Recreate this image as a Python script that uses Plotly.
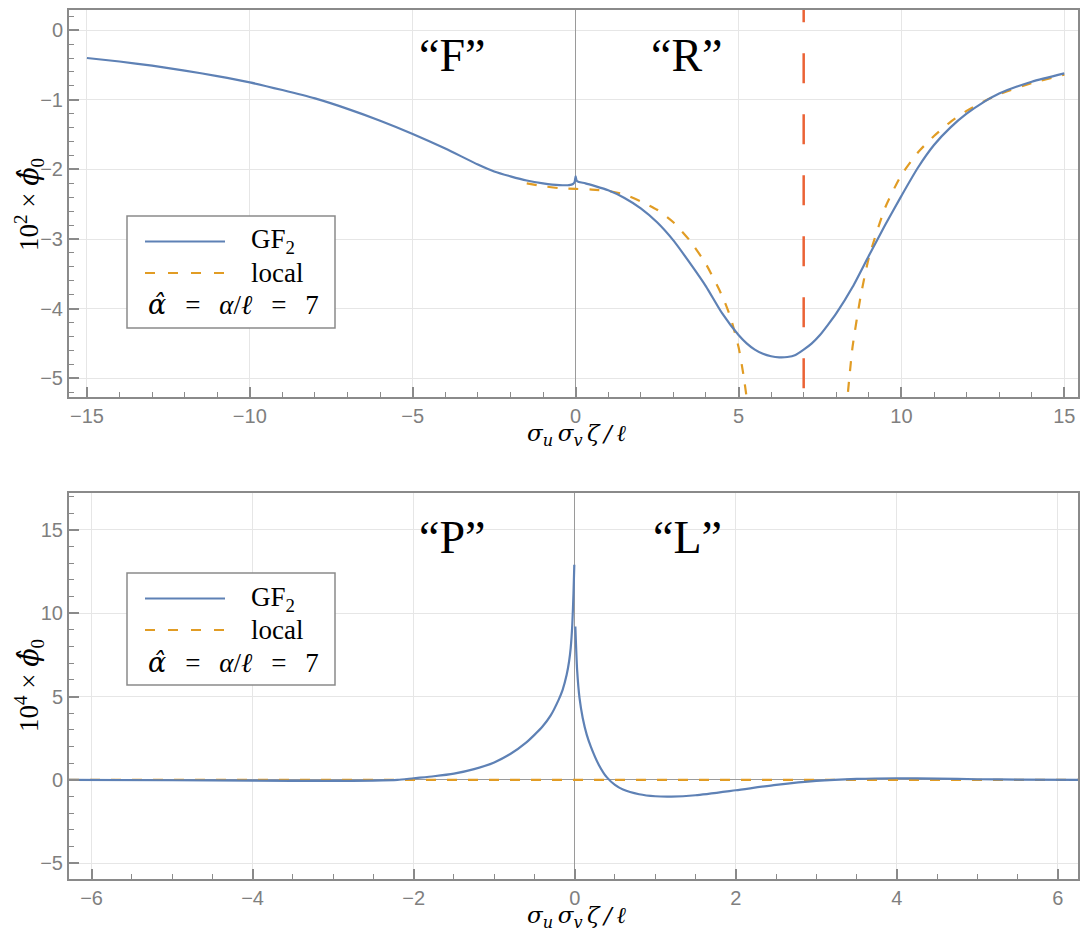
import plotly.graph_objects as go

# ---------------- data ----------------
alpha_hat = 7

top_gf_x = [-15, -14, -13, -12, -11, -10, -9, -8, -7, -6, -5, -4, -3, -2.5, -2, -1.5, -1, -0.5, -0.2, -0.08,
            -0.03, 0, 0.03, 0.1, 0.3, 0.6, 1.0, 1.5, 2.0, 2.5, 3.0, 3.5, 4.0, 4.5, 5.0, 5.25, 5.5, 5.75, 6.0,
            6.25, 6.5, 6.75, 7.0, 7.25, 7.5, 7.75, 8.0, 8.5, 9.0, 9.5, 10.0, 10.5, 11.0, 11.5, 12.0, 12.5,
            13.0, 14.0, 15]
top_gf_y = [-0.40, -0.45, -0.51, -0.58, -0.66, -0.75, -0.86, -0.98, -1.13, -1.30, -1.49, -1.70, -1.93, -2.03,
            -2.10, -2.16, -2.20, -2.225, -2.225, -2.21, -2.18, -2.10, -2.16, -2.18, -2.20, -2.24, -2.30, -2.41,
            -2.56, -2.76, -3.02, -3.34, -3.68, -4.07, -4.38, -4.50, -4.59, -4.65, -4.685, -4.70, -4.695,
            -4.665, -4.59, -4.50, -4.38, -4.23, -4.07, -3.69, -3.24, -2.80, -2.38, -1.98, -1.65, -1.40, -1.20,
            -1.04, -0.91, -0.74, -0.62]

top_loc_x = [-1.5, -1, -0.5, 0, 0.5, 1.0, 1.5, 2.0, 2.5, 3.0, 3.5, 4.0, 4.5, 4.75, 5.0, 5.15, 5.3, None,
             8.3, 8.4, 8.5, 8.75, 9.0, 9.5, 10.0, 10.5, 11.0, 11.5, 12.0, 12.5, 13.0, 14.0, 15]
top_loc_y = [-2.20, -2.24, -2.27, -2.28, -2.29, -2.31, -2.36, -2.46, -2.58, -2.76, -3.02, -3.36, -3.82, -4.12,
             -4.55, -4.95, -5.45, None, -5.50, -5.00, -4.55, -3.82, -3.27, -2.55, -2.08, -1.76, -1.52, -1.32,
             -1.16, -1.03, -0.92, -0.76, -0.64]

bot_gf_x = [-6.28, -5, -4, -3, -2.5, -2.2, -2.0, -1.75, -1.5, -1.25, -1.0, -0.8, -0.6, -0.5, -0.4, -0.3, -0.2,
            -0.15, -0.1, -0.07, -0.05, -0.03, -0.015, -0.005, None,
            0.008, 0.03, 0.06, 0.1, 0.15, 0.2, 0.3, 0.4, 0.5, 0.6, 0.8, 1.0, 1.2, 1.5, 2.0, 2.5, 3.0, 3.5, 4.0,
            4.5, 5.0, 5.5, 6.28]
bot_gf_y = [0.0, -0.02, -0.04, -0.06, -0.04, 0.0, 0.1, 0.22, 0.38, 0.65, 1.05, 1.55, 2.25, 2.7, 3.2, 3.85, 4.8,
            5.4, 6.3, 7.1, 7.9, 9.3, 11.2, 12.9, None,
            9.2, 6.6, 4.9, 3.7, 2.7, 2.0, 0.9, 0.15, -0.3, -0.58, -0.86, -0.98, -1.0, -0.92, -0.62, -0.3, -0.06,
            0.06, 0.1, 0.08, 0.04, 0.02, 0.0]

bot_loc_x = [-6.28, 6.28]
bot_loc_y = [0.0, 0.0]

HAT = "<span style='font-family:DejaVu Serif'><i>{}</i></span>"
top_region_labels = ["“F”", "“R”"]
bot_region_labels = ["“P”", "“L”"]
NB = "&nbsp;"
SP = NB * 2 + "\u2009"
legend_texts = ["GF<sub>2</sub>", "local",
                HAT.format("α̂") + SP + "=" + SP + "<i>α</i>/<i>ℓ</i>" + SP + "=" + SP + "7"]

# ---------------- style ----------------
W, H = 1080, 939
BLUE = "#5E81B5"
ORANGE = "#E19C24"
RED = "#EB6235"
FRAME = "#8a8a8a"
GRID = "#e6e6e6"
TICKFONT = dict(family="Liberation Sans, Arial, sans-serif", size=20, color="#7f7f7f")
SERIF = "Liberation Serif, Times New Roman, serif"


def px(x):
    return x / W


def py(y):
    return 1 - y / H


fig = go.Figure()

fig.add_trace(go.Scatter(x=top_loc_x, y=top_loc_y, mode="lines", xaxis="x", yaxis="y",
                         line=dict(color=ORANGE, width=2.2, dash="10px,11px", shape="spline", smoothing=0.6),
                         showlegend=False))
fig.add_trace(go.Scatter(x=top_gf_x, y=top_gf_y, mode="lines", xaxis="x", yaxis="y",
                         line=dict(color=BLUE, width=2.2, shape="spline", smoothing=0.6), showlegend=False))
fig.add_trace(go.Scatter(x=bot_loc_x, y=bot_loc_y, mode="lines", xaxis="x2", yaxis="y2",
                         line=dict(color=ORANGE, width=2.2, dash="10px,11px"), showlegend=False))
fig.add_trace(go.Scatter(x=bot_gf_x, y=bot_gf_y, mode="lines", xaxis="x2", yaxis="y2",
                         line=dict(color=BLUE, width=2.2, shape="spline", smoothing=0.6), showlegend=False))


def axis_common(dtick, minor_dtick, rng, domain, anchor):
    return dict(
        range=rng, domain=domain, anchor=anchor,
        showline=True, linecolor=FRAME, linewidth=2, mirror=True,
        ticks="inside", ticklen=10, tickwidth=1.5, tickcolor=FRAME,
        dtick=dtick, tick0=0,
        minor=dict(dtick=minor_dtick, ticks="inside", ticklen=5, tickwidth=1.2, tickcolor=FRAME, showgrid=False),
        showgrid=True, gridcolor=GRID, gridwidth=1,
        zeroline=False,
        tickfont=TICKFONT,
    )


xdom = [px(69), px(1078)]
top_ydom = [py(397), py(10)]
bot_ydom = [py(879), py(493)]

xa = axis_common(5, 1, [-15.55, 15.42], xdom, "y")
xa.update(zeroline=True, zerolinecolor="#9a9a9a", zerolinewidth=1)
ya = axis_common(1, 0.2, [-5.27, 0.29], top_ydom, "x")
xa2 = axis_common(2, 0.5, [-6.28, 6.25], xdom, "y2")
xa2.update(zeroline=True, zerolinecolor="#9a9a9a", zerolinewidth=1)
ya2 = axis_common(5, 1, [-5.94, 17.2], bot_ydom, "x2")
ya2.update(zeroline=True, zerolinecolor="#9a9a9a", zerolinewidth=1)

fig.update_layout(
    width=W, height=H,
    margin=dict(l=0, r=0, t=0, b=0),
    paper_bgcolor="white", plot_bgcolor="white",
    xaxis=xa, yaxis=ya, xaxis2=xa2, yaxis2=ya2,
)

shapes = []
# vertical dashed line at alpha_hat
shapes.append(dict(type="line", xref="x", yref="y", x0=alpha_hat, x1=alpha_hat, y0=0.546, y1=-5.4,
                   line=dict(color=RED, width=2.5, dash="30px,31px"), layer="above"))

annotations = []


def add_legend(top):
    shapes.append(dict(type="rect", xref="paper", yref="paper", x0=px(127), x1=px(335), y0=py(top + 112),
                       y1=py(top), line=dict(color=FRAME, width=1.5), fillcolor="white", layer="above"))
    y1 = top + 25.5
    y2 = top + 57
    y3 = top + 89
    shapes.append(dict(type="line", xref="paper", yref="paper", x0=px(145), x1=px(225), y0=py(y1), y1=py(y1),
                       line=dict(color=BLUE, width=2.2), layer="above"))
    shapes.append(dict(type="line", xref="paper", yref="paper", x0=px(145), x1=px(225), y0=py(y2), y1=py(y2),
                       line=dict(color=ORANGE, width=2.2, dash="10px,13px"), layer="above"))
    for txt, yy, xx in zip(legend_texts, [y1, y2, y3], [249, 249, 146]):
        annotations.append(dict(xref="paper", yref="paper", x=px(xx), y=py(yy), text=txt, showarrow=False,
                                xanchor="left", yanchor="middle",
                                font=dict(family=SERIF, size=27, color="black")))


add_legend(216)
add_legend(573)

for txt, xx in zip(top_region_labels, [452, 687]):
    annotations.append(dict(xref="paper", yref="paper", x=px(xx), y=py(56), text=txt, showarrow=False,
                            xanchor="center", yanchor="middle", font=dict(family=SERIF, size=46, color="black")))
for txt, xx in zip(bot_region_labels, [452, 687]):
    annotations.append(dict(xref="paper", yref="paper", x=px(xx), y=py(537), text=txt, showarrow=False,
                            xanchor="center", yanchor="middle", font=dict(family=SERIF, size=46, color="black")))

xtitle = "<i>σ<sub>u</sub>\u2009σ<sub>v</sub>\u2009ζ\u2009/\u2009ℓ</i>"
for yy in [435, 917]:
    annotations.append(dict(xref="paper", yref="paper", x=px(576), y=py(yy), text=xtitle, showarrow=False,
                            xanchor="center", yanchor="middle",
                            font=dict(family="DejaVu Serif", size=23, color="black")))
for yy, p in [(205, "2"), (686, "4")]:
    annotations.append(dict(xref="paper", yref="paper", x=px(29), y=py(yy),
                            text="10<sup>" + p + "</sup>" + NB + "×" + NB + HAT.format("ϕ̂") + "<sub>0</sub>",
                            showarrow=False, textangle=-90,
                            xanchor="center", yanchor="middle", font=dict(family=SERIF, size=27, color="black")))

fig.update_layout(shapes=shapes, annotations=annotations)

fig.write_html("out.html", config={"displayModeBar": False},
               post_script="document.body.style.margin='0px';document.body.style.overflow='hidden';")
